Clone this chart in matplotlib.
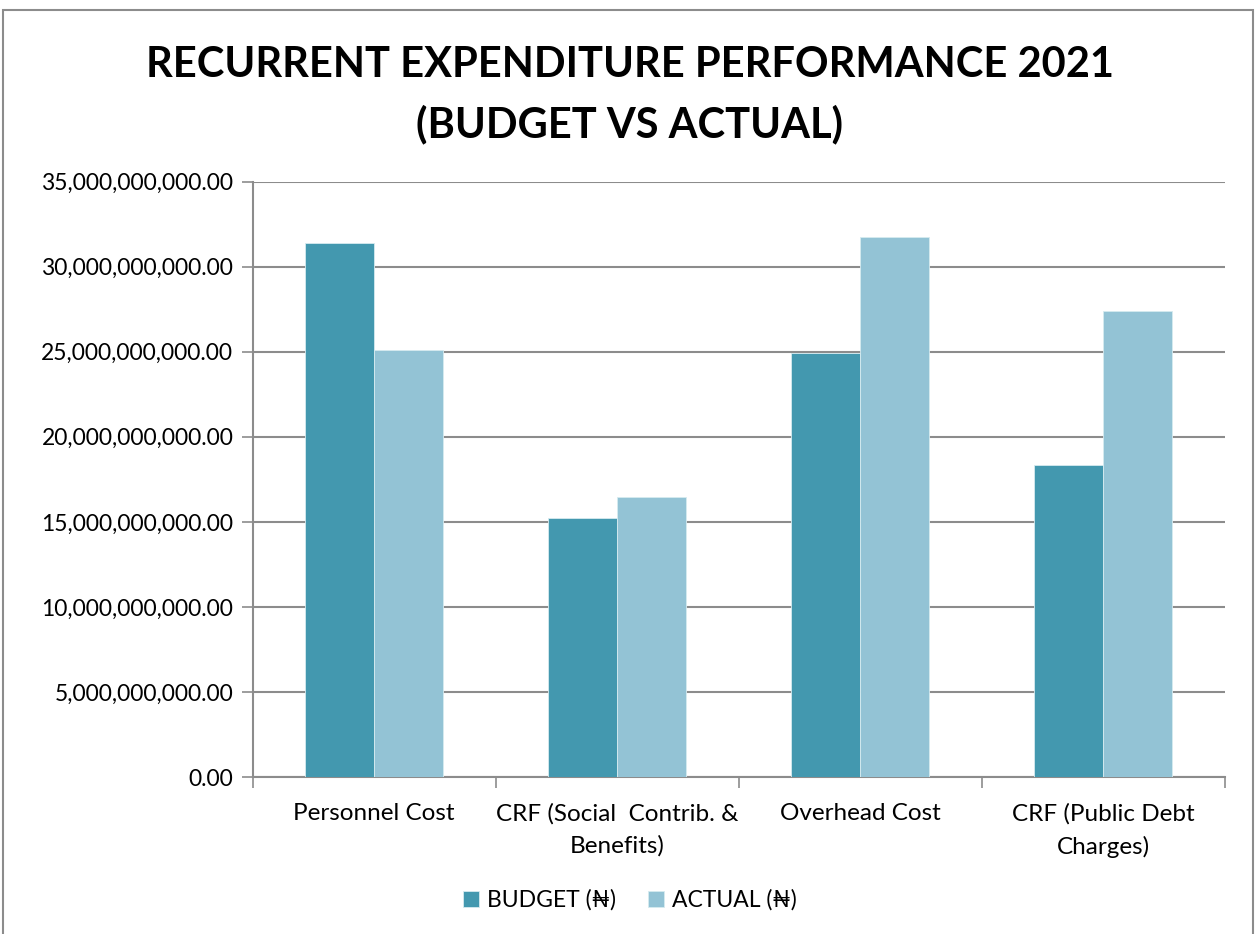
import numpy as np
import matplotlib.pyplot as plt
from matplotlib.patches import Rectangle
from matplotlib.ticker import FuncFormatter

plt.rcParams['font.family'] = ['Lato', 'DejaVu Sans']

categories = ['Personnel Cost', 'CRF (Social  Contrib. &\nBenefits)',
              'Overhead Cost', 'CRF (Public Debt\nCharges)']
budget = [31.39e9, 15.24e9, 24.90e9, 18.35e9]
actual = [25.12e9, 16.47e9, 31.75e9, 27.39e9]
series_names = ['BUDGET (\u20a6)', 'ACTUAL (\u20a6)']
colors = ['#4398AF', '#93C3D5']

W, H = 1259, 934
fig = plt.figure(figsize=(W / 100, H / 100), dpi=100)
# chart frame
fig.patches.append(Rectangle((3 / W, -0.01), 1250 / W, 1 - 10 / H + 0.01,
                             transform=fig.transFigure, fill=False,
                             edgecolor='#8c8c8c', linewidth=1.5))

ax = fig.add_axes([252.7 / W, 1 - 777 / H, (1225 - 252.7) / W, (777 - 181.7) / H])

x = np.arange(len(categories))
bw = 0.284
ax.bar(x - bw / 2, budget, bw, color=colors[0], edgecolor='#d6ebf0',
       linewidth=0.6, label=series_names[0], zorder=3)
ax.bar(x + bw / 2, actual, bw, color=colors[1], edgecolor='#d6ebf0',
       linewidth=0.6, label=series_names[1], zorder=3)

ax.set_xlim(-0.5, len(categories) - 0.5)
ax.set_ylim(0, 35e9)
ax.set_yticks(np.arange(0, 35e9 + 1, 5e9))
ax.yaxis.set_major_formatter(FuncFormatter(lambda v, p: f'{v:,.2f}'))
ax.set_xticks(np.arange(-0.5, len(categories), 1.0))
ax.set_xticklabels([])
ax.set_xticks(x, minor=True)
ax.set_xticklabels(categories, minor=True, fontsize=17.5, linespacing=1.6)
ax.tick_params(axis='x', which='minor', length=0, pad=19)
ax.tick_params(axis='x', which='major', length=8, width=1.2, color='#8c8c8c')
ax.tick_params(axis='y', length=8, width=1.2, color='#8c8c8c', labelsize=16.5, pad=6)

ax.grid(axis='y', color='#8c8c8c', linewidth=1.5, zorder=0)
for s in ['top', 'right']:
    ax.spines[s].set_visible(False)
for s in ['left', 'bottom']:
    ax.spines[s].set_color('#8c8c8c')
    ax.spines[s].set_linewidth(1.5)

fig.text(0.5, 1 - 95 / H, 'RECURRENT EXPENDITURE PERFORMANCE 2021\n(BUDGET VS ACTUAL)',
         ha='center', va='center', fontsize=30, fontweight='bold', linespacing=1.62)

fig.legend(loc='center', bbox_to_anchor=(0.5, 1 - 900 / H), ncol=2, frameon=False,
           fontsize=16.5, handlelength=0.7, handleheight=0.7, columnspacing=1.4,
           handletextpad=0.35)

plt.savefig('out.png', dpi=100)
